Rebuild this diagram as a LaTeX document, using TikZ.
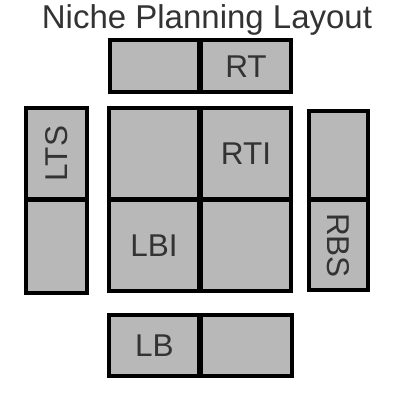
\documentclass[tikz,border=0pt]{standalone}
\usepackage{fontspec}
\setmainfont{Liberation Sans}
\usepackage{tikz}
\usepackage{xcolor}

\definecolor{cellgray}{HTML}{B8B8B8}
\definecolor{labelgray}{HTML}{333333}

\tikzset{
	cell/.style={draw=black,line width=4pt,fill=cellgray,inner sep=0pt,
		text=labelgray,font=\fontsize{31.5}{36}\selectfont},
}

\begin{document}
\begin{tikzpicture}[x=1pt,y=-1pt]
		\useasboundingbox (0,0) rectangle (400,400);
		\node[anchor=base,text=labelgray,font=\fontsize{33}{38}\selectfont] (title) at (207,28.5) {Niche Planning Layout};
		% top strip
		\node[cell,minimum width=89pt,minimum height=51.7pt] (topleft) at (154.8,66.2) {};
		\node[cell,minimum width=90.6pt,minimum height=51.7pt] (rt) at (246,66.2) {RT};
		% inner square
		\node[cell,minimum width=90.8pt,minimum height=90.6pt] (innerTL) at (153.9,153.3) {};
		\node[cell,minimum width=90.6pt,minimum height=90.6pt] (rti) at (246,153.3) {RTI};
		\node[cell,minimum width=90.8pt,minimum height=91.3pt] (lbi) at (153.9,245.7) {LBI};
		\node[cell,minimum width=90.6pt,minimum height=91.3pt] (innerBR) at (246,245.7) {};
		% left strip
		\node[cell,minimum width=61pt,minimum height=91pt] (lts) at (56.5,153.5) {\rotatebox{90}{LTS}};
		\node[cell,minimum width=61pt,minimum height=92.9pt] (leftbottom) at (56.5,246.9) {};
		% right strip
		\node[cell,minimum width=58.4pt,minimum height=87.7pt] (righttop) at (338.5,155.2) {};
		\node[cell,minimum width=58.4pt,minimum height=89.9pt] (rbs) at (338.5,245.4) {\rotatebox{-90}{RBS}};
		% bottom strip
		\node[cell,minimum width=90pt,minimum height=60.7pt] (lb) at (154.3,345.7) {LB};
		\node[cell,minimum width=91.3pt,minimum height=60.7pt] (bottomright) at (246.4,345.7) {};
	\end{tikzpicture}
\end{document}
